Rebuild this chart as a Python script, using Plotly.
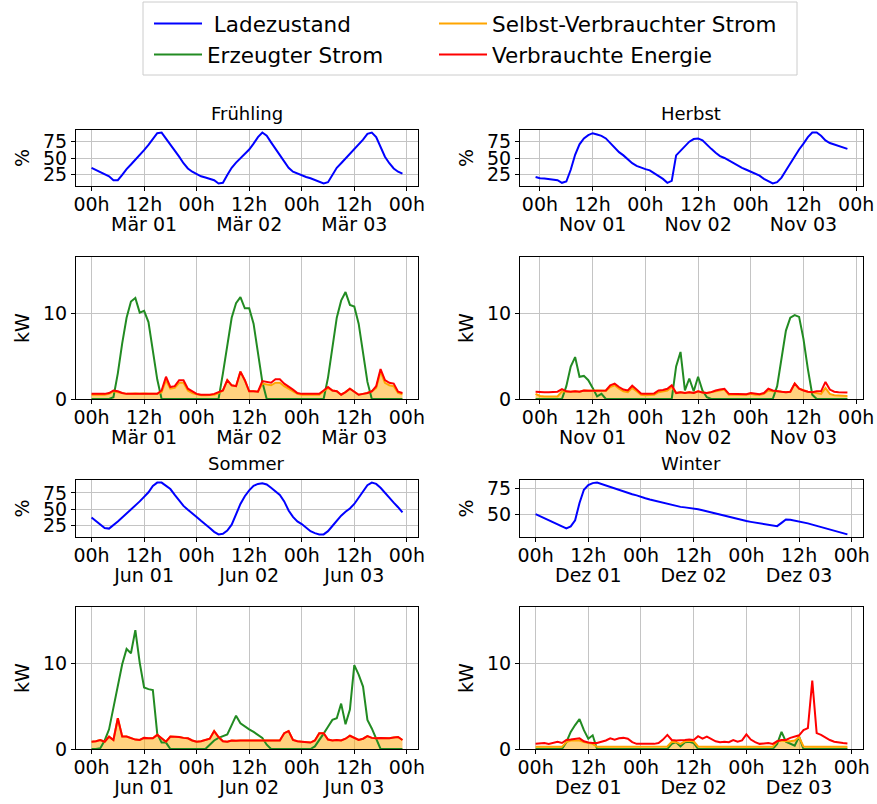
import pandas as pd
import plotly.graph_objects as go

W, H = 877, 804

# ---------------- data ----------------
TITLES = ["Frühling", "Herbst", "Sommer", "Winter"]
START = ["2023-03-01 00:00", "2023-10-31 23:00", "2023-06-01 00:00", "2023-12-01 00:00"]
DAY0 = ["2023-03-01", "2023-11-01", "2023-06-01", "2023-12-01"]

HOUR_TICKTEXT = ["00h", "12h", "00h", "12h", "00h", "12h", "00h"]
DATES_FR = ["Mär 01", "Mär 02", "Mär 03"]
DATES_HE = ["Nov 01", "Nov 02", "Nov 03"]
DATES_SO = ["Jun 01", "Jun 02", "Jun 03"]
DATES_WI = ["Dez 01", "Dez 02", "Dez 03"]

# Ladezustand (%)
SOC_FR = [35, 32, 29, 26, 22, 16, 16, 24, 33, 40, 47, 55,
          62, 70, 80, 88, 89, 80, 70, 62, 52, 42, 34, 29,
          25, 22, 20, 18, 16, 11, 12, 24, 35, 43, 50, 56,
          63, 72, 82, 89, 84, 74, 64, 53, 43, 35, 29, 26,
          24, 21, 19, 16, 14, 11, 13, 24, 35, 42, 49, 56,
          63, 70, 78, 87, 89, 82, 68, 52, 42, 34, 29, 26]
SOC_HE = [21, 19, 18.5, 18, 17, 16, 12, 14, 32, 55, 71, 80,
          85, 88, 86, 84, 80, 73, 65, 59, 54, 48, 42, 38,
          35, 33, 31, 27, 23, 18, 12, 15, 54, 61, 67, 75,
          79, 80, 77, 70, 64, 58, 53, 50, 46, 42, 39, 35,
          32, 29, 26, 23, 18, 14, 11, 13, 20, 31, 42, 52,
          63, 72, 82, 89, 89, 84, 77, 73, 71, 68, 66, 64]
SOC_SO = [37, 32, 26, 21, 20, 25, 31, 37, 43, 50, 56, 62,
          69, 76, 86, 91, 91, 86, 81, 72, 63, 55, 49, 44,
          38, 32, 27, 21, 15, 11, 12, 17, 26, 42, 58, 70,
          79, 86, 89, 90, 88, 83, 78, 72, 62, 48, 38, 31,
          27, 21, 16, 13, 11, 11, 16, 24, 32, 40, 46, 51,
          58, 68, 79, 87, 91, 89, 83, 75, 67, 60, 53, 45]
SOC_WI = [50, 48, 46, 44, 42, 40, 38, 36, 38, 44, 61, 74,
          78.5, 80.5, 81, 79.5, 78, 76.5, 75, 73.5, 72, 70.8, 69.6, 68.5,
          66.7, 65.6, 64.4, 63.3, 62.1, 61, 59.8, 58.7, 57.8, 57.2, 56.7, 56.3,
          56, 54.9, 53.9, 52.8, 51.8, 50.7, 49.6, 48.6, 47.5, 46.5, 45.4, 44.4,
          43.3, 42.5, 41.7, 40.9, 40.1, 39.3, 38.5, 38.3, 41.5, 44.8, 44.6, 43.8,
          43.0, 42, 41, 39.8, 38.6, 37.4, 36.2, 35, 33.8, 32.6, 31.4, 30.2]

# Erzeugter Strom (kW)
GEN_FR = [0, 0, 0, 0, 0, 0.2, 3.0, 6.5, 9.5, 11.4, 11.8, 10.1,
          10.3, 9.0, 5.7, 2.3, 0, 0, 0, 0, 0, 0, 0, 0,
          0, 0, 0, 0, 0, 0, 3.0, 6.5, 9.5, 11.2, 11.9, 10.6,
          10.6, 8.8, 5.5, 2.0, 0, 0, 0, 0, 0, 0, 0, 0,
          0, 0, 0, 0, 0, 0, 2.5, 6.0, 9.5, 11.5, 12.5, 11.0,
          10.8, 8.8, 5.2, 2.0, 0, 0, 0, 0, 0, 0, 0, 0]
GEN_HE = [0, 0, 0, 0, 0, 0, 0, 1.5, 3.8, 4.9, 2.6, 2.7,
          2.2, 1.3, 0.3, 0.6, 0, 0, 0, 0, 0, 0, 0, 0,
          0, 0, 0, 0, 0, 0, 0, 0, 3.8, 5.5, 1.0, 2.4,
          0.9, 2.6, 1.0, 0.2, 0, 0, 0, 0, 0, 0, 0, 0,
          0, 0, 0, 0, 0, 0, 0, 1.5, 4.5, 8.0, 9.5, 9.8,
          9.6, 7.0, 3.5, 0.5, 0, 0, 0, 0, 0, 0, 0, 0]
GEN_SO = [0, 0, 0.1, 1.0, 2.3, 4.8, 7.0, 9.9, 11.7, 11.2, 13.9, 10.1,
          7.2, 7.0, 6.9, 1.8, 0.75, 0.75, 0, 0, 0, 0, 0, 0,
          0, 0, 0, 0.5, 1.0, 1.3, 1.5, 1.7, 2.8, 3.9, 3.0, 2.6,
          2.3, 2.0, 1.7, 1.3, 0.5, 0, 0, 0, 0, 0, 0, 0,
          0, 0, 0, 0.3, 1.0, 1.8, 2.6, 3.4, 3.6, 5.3, 2.9, 4.6,
          9.8, 8.7, 7.3, 3.4, 2.4, 1.2, 0, 0, 0, 0, 0, 0]
GEN_WI = [0, 0, 0, 0, 0, 0, 0, 0.8, 2.0, 2.8, 3.5, 2.2,
          1.2, 1.6, 0, 0, 0, 0, 0, 0, 0, 0, 0, 0,
          0, 0, 0, 0, 0, 0, 0, 0.6, 0.8, 0.3, 0.8, 0.85,
          0.7, 0, 0, 0, 0, 0, 0, 0, 0, 0, 0, 0,
          0, 0, 0, 0, 0, 0, 0, 0.6, 2.0, 0.85, 0.6, 0.4,
          1.45, 0, 0, 0, 0, 0, 0, 0, 0, 0, 0, 0]

# Selbst-Verbrauchter Strom (kW)
SELF_FR = [0.5, 0.5, 0.5, 0.5, 0.6, 0.9, 0.8, 0.7, 0.6, 0.6, 0.65, 0.6,
           0.65, 0.6, 0.6, 0.6, 0.8, 2.2, 1.2, 1.3, 1.9, 1.9, 1.0, 0.7,
           0.55, 0.45, 0.45, 0.45, 0.5, 0.7, 1.0, 2.2, 1.6, 1.5, 3.2, 2.2,
           0.9, 0.9, 0.85, 1.8, 1.7, 1.6, 1.9, 1.9, 1.5, 1.2, 0.9, 0.6,
           0.5, 0.5, 0.5, 0.5, 0.5, 0.9, 1.3, 1.0, 0.9, 0.5, 0.8, 1.2,
           0.8, 0.5, 0.6, 0.7, 0.9, 1.3, 3.2, 1.9, 1.6, 1.5, 0.7, 0.55]
SELF_HE = [0.6, 0.35, 0.3, 0.3, 0.3, 0.3, 0.9, 0.85, 0.85, 0.9, 0.85, 1.0,
           0.95, 0.95, 1.0, 0.95, 0.95, 1.4, 1.6, 1.2, 0.9, 0.8, 1.3, 0.9,
           0.5, 0.45, 0.45, 0.5, 0.8, 0.9, 1.0, 1.4, 0.7, 0.8, 0.7, 0.8,
           0.7, 0.9, 0.75, 0.7, 0.8, 0.9, 1.0, 1.1, 0.5, 0.5, 0.5, 0.5,
           0.5, 0.6, 0.5, 0.5, 0.6, 1.0, 0.9, 0.9, 0.85, 0.8, 0.85, 1.8,
           1.2, 1.0, 0.85, 0.8, 0.7, 0.6, 1.3, 0.6, 0.45, 0.4, 0.35, 0.35]
SELF_SO = [0.85, 0.9, 1.05, 0.85, 1.45, 1.05, 3.6, 1.45, 1.45, 1.3, 1.1, 1.05,
           1.3, 1.25, 1.25, 1.65, 1.3, 0.85, 1.45, 1.45, 1.4, 1.3, 1.25, 1.0,
           0.85, 0.9, 1.05, 1.2, 2.1, 1.4, 0.9, 0.85, 1.0, 0.95, 1.0, 1.0,
           1.0, 1.0, 1.0, 1.0, 1.0, 1.05, 1.0, 1.0, 1.85, 2.1, 1.05, 0.9,
           0.85, 0.8, 0.75, 1.0, 1.85, 1.85, 1.1, 1.0, 1.05, 1.0, 1.2, 1.55,
           1.3, 1.05, 1.2, 1.5, 1.3, 1.25, 1.3, 1.3, 1.25, 1.35, 1.4, 1.05]
SELF_WI = [0.25, 0.25, 0.25, 0.25, 0.25, 0.25, 0.25, 0.8, 1.0, 1.0, 1.0, 0.8,
           0.7, 0.6, 0.25, 0.25, 0.25, 0.25, 0.25, 0.25, 0.25, 0.25, 0.25, 0.25,
           0.25, 0.25, 0.25, 0.25, 0.25, 0.25, 0.3, 0.85, 0.8, 0.6, 0.9, 0.95,
           0.9, 0.3, 0.25, 0.25, 0.25, 0.25, 0.25, 0.25, 0.25, 0.25, 0.25, 0.25,
           0.25, 0.25, 0.25, 0.25, 0.25, 0.25, 0.25, 0.9, 1.0, 0.9, 0.9, 1.0,
           1.4, 0.3, 0.25, 0.25, 0.25, 0.25, 0.25, 0.25, 0.25, 0.25, 0.25, 0.25]

# Verbrauchte Energie (kW)
CONS_FR = [0.6, 0.6, 0.6, 0.6, 0.7, 1.0, 0.9, 0.7, 0.6, 0.6, 0.65, 0.6,
           0.65, 0.6, 0.6, 0.6, 1.0, 2.6, 1.4, 1.5, 2.2, 2.2, 1.2, 0.85,
           0.6, 0.5, 0.5, 0.5, 0.6, 0.8, 1.0, 2.2, 1.6, 1.5, 3.2, 2.2,
           0.9, 0.9, 0.85, 2.1, 2.0, 1.9, 2.3, 2.3, 1.8, 1.5, 1.1, 0.7,
           0.6, 0.6, 0.6, 0.6, 0.6, 1.0, 1.4, 1.0, 0.9, 0.5, 0.8, 1.2,
           0.8, 0.5, 0.6, 0.7, 0.9, 1.5, 3.5, 2.2, 1.9, 1.8, 0.85, 0.7]
CONS_HE = [0.85, 0.8, 0.8, 0.8, 0.8, 0.85, 1.15, 0.9, 0.85, 0.9, 0.85, 1.0,
           0.95, 0.95, 1.0, 0.95, 1.0, 1.6, 1.8, 1.4, 1.1, 1.0, 1.55, 1.1,
           0.65, 0.6, 0.6, 0.65, 1.0, 1.05, 1.2, 1.6, 0.7, 0.8, 0.7, 0.8,
           0.7, 0.9, 0.75, 0.7, 0.8, 1.0, 1.1, 1.2, 0.6, 0.6, 0.55, 0.6,
           0.55, 0.7, 0.6, 0.55, 0.7, 1.2, 1.0, 0.9, 0.85, 0.8, 0.85, 1.8,
           1.2, 1.0, 0.85, 0.8, 0.9, 0.9, 2.0, 1.1, 0.85, 0.8, 0.75, 0.75]
CONS_SO = [0.85, 0.9, 1.05, 0.85, 1.45, 1.05, 3.6, 1.45, 1.45, 1.3, 1.1, 1.05,
           1.3, 1.25, 1.25, 1.65, 1.3, 0.85, 1.45, 1.45, 1.4, 1.3, 1.25, 1.0,
           0.85, 0.9, 1.05, 1.2, 2.1, 1.4, 0.9, 0.85, 1.0, 0.95, 1.0, 1.0,
           1.0, 1.0, 1.0, 1.0, 1.0, 1.05, 1.0, 1.0, 1.85, 2.1, 1.05, 0.9,
           0.85, 0.8, 0.75, 1.0, 1.85, 1.85, 1.1, 1.0, 1.05, 1.0, 1.2, 1.55,
           1.3, 1.05, 1.2, 1.5, 1.3, 1.25, 1.3, 1.3, 1.25, 1.35, 1.4, 1.05]
CONS_WI = [0.6, 0.65, 0.7, 0.6, 0.7, 0.85, 0.7, 1.05, 1.1, 1.15, 1.25, 0.9,
           0.75, 0.7, 0.7, 0.85, 1.0, 1.25, 1.1, 1.25, 1.3, 1.2, 0.8, 0.6,
           0.6, 0.6, 0.6, 0.6, 0.7, 1.1, 1.65, 1.05, 1.0, 1.0, 1.05, 1.1,
           1.05, 1.5, 1.2, 1.45, 1.15, 0.9, 0.8, 0.85, 0.8, 1.05, 0.85, 1.0,
           1.7, 1.1, 0.8, 0.6, 0.65, 0.7, 0.6, 0.9, 1.05, 1.05, 1.3, 1.45,
           1.6, 2.2, 2.45, 8.0, 1.85, 1.65, 1.3, 1.05, 0.85, 0.75, 0.7, 0.65]

SOC = [SOC_FR, SOC_HE, SOC_SO, SOC_WI]
GEN = [GEN_FR, GEN_HE, GEN_SO, GEN_WI]
SELF = [SELF_FR, SELF_HE, SELF_SO, SELF_WI]
CONS = [CONS_FR, CONS_HE, CONS_SO, CONS_WI]
DATES = [DATES_FR, DATES_HE, DATES_SO, DATES_WI]

# ---------------- layout geometry (pixels) ----------------
COLS_PX = [(76, 418), (520, 863)]
SOC_ROWS_PX = [(130, 186), (480, 537)]
KW_ROWS_PX = [(257, 399), (607, 749)]
KW_RANGE = [0, 16.6]

FONT = "DejaVu Sans"
TICK_SIZE = 19


def xdom(c):
    return [COLS_PX[c][0] / W, COLS_PX[c][1] / W]


def ydom(r):
    return [1 - r[1] / H, 1 - r[0] / H]


fig = go.Figure()
layout = {}
annotations = []

axis_common = dict(
    showline=True, linecolor="black", linewidth=1, mirror=True,
    ticks="outside", ticklen=4, tickwidth=1, tickcolor="black",
    showgrid=True, gridcolor="#c4c4c4", gridwidth=1, zeroline=False,
    tickfont=dict(family=FONT, size=TICK_SIZE, color="black"),
    automargin=False, tickangle=0,
)

for i in range(4):
    col = i % 2
    blk = i // 2
    x = pd.date_range(START[i], periods=len(SOC[i]), freq="h")
    pad = (x[-1] - x[0]) * 0.05
    xrange = [x[0] - pad, x[-1] + pad]
    d0 = pd.Timestamp(DAY0[i])
    tickvals = [d0 + pd.Timedelta(hours=12 * k) for k in range(7)]
    datevals = [d0 + pd.Timedelta(hours=12 + 24 * k) for k in range(3)]

    a_soc = 2 * i + 1
    a_kw = 2 * i + 2

    for a in (a_soc, a_kw):
        layout["xaxis%d" % a] = dict(
            axis_common, domain=xdom(col), anchor="y%d" % a, type="date",
            range=xrange, tickmode="array", tickvals=tickvals, ticktext=HOUR_TICKTEXT,
            ticklabelstandoff=-3,
        )
        # second label row (dates) as an overlaying axis
        layout["xaxis%d" % (a + 8)] = dict(
            overlaying="x%d" % a, anchor="y%d" % a, side="bottom", type="date",
            range=xrange, tickmode="array", tickvals=datevals, ticktext=DATES[i],
            showgrid=False, showline=False, zeroline=False,
            ticks="outside", ticklen=4, tickcolor="rgba(0,0,0,0)",
            ticklabelstandoff=17, automargin=False, tickangle=0,
            tickfont=dict(family=FONT, size=TICK_SIZE, color="black"),
        )
        # empty carrier trace so the date-label axis is rendered
        fig.add_trace(go.Scatter(
            x=x, y=SOC[i] if a == a_soc else CONS[i], mode="none",
            showlegend=False, hoverinfo="skip",
            xaxis="x%d" % (a + 8), yaxis="y%d" % a))

    lo, hi = min(SOC[i]), max(SOC[i])
    m = (hi - lo) * 0.05
    layout["yaxis%d" % a_soc] = dict(
        axis_common, domain=ydom(SOC_ROWS_PX[blk]), anchor="x%d" % a_soc,
        range=[lo - m, hi + m], tickmode="array", tickvals=[25, 50, 75],
        title=dict(text="%", font=dict(family=FONT, size=TICK_SIZE, color="black"), standoff=8),
    )
    layout["yaxis%d" % a_kw] = dict(
        axis_common, domain=ydom(KW_ROWS_PX[blk]), anchor="x%d" % a_kw,
        range=KW_RANGE, tickmode="array", tickvals=[0, 10],
        title=dict(text="kW", font=dict(family=FONT, size=TICK_SIZE, color="black"), standoff=8),
    )

    annotations.append(dict(
        text=TITLES[i], xref="paper", yref="paper",
        x=sum(xdom(col)) / 2, y=ydom(SOC_ROWS_PX[blk])[1],
        xanchor="center", yanchor="bottom", yshift=4, showarrow=False,
        font=dict(family=FONT, size=18, color="black"),
    ))

    first = i == 0
    xs, ys = "x%d" % a_soc, "y%d" % a_soc
    xk, yk = "x%d" % a_kw, "y%d" % a_kw

    fig.add_trace(go.Scatter(
        x=x, y=SOC[i], mode="lines", line=dict(color="blue", width=2),
        name="\u00a0Ladezustand", legend="legend", legendrank=1, showlegend=first,
        xaxis=xs, yaxis=ys))

    fig.add_trace(go.Scatter(
        x=x, y=SELF[i], mode="none", fill="tozeroy",
        fillcolor="rgba(255,165,0,0.5)", showlegend=False, hoverinfo="skip",
        xaxis=xk, yaxis=yk))
    fig.add_trace(go.Scatter(
        x=x, y=GEN[i], mode="lines", line=dict(color="#228B22", width=2),
        name="Erzeugter Strom", legend="legend", legendrank=2, showlegend=first,
        xaxis=xk, yaxis=yk))
    fig.add_trace(go.Scatter(
        x=x, y=SELF[i], mode="lines", line=dict(color="orange", width=2),
        name="Selbst-Verbrauchter Strom", legend="legend2", legendrank=1, showlegend=first,
        xaxis=xk, yaxis=yk))
    fig.add_trace(go.Scatter(
        x=x, y=CONS[i], mode="lines", line=dict(color="red", width=2),
        name="Verbrauchte Energie", legend="legend2", legendrank=2, showlegend=first,
        xaxis=xk, yaxis=yk))

legend_common = dict(
    orientation="v", xanchor="left", yanchor="top", y=1 - 3 / H,
    bgcolor="rgba(0,0,0,0)", borderwidth=0, tracegroupgap=0,
    font=dict(family=FONT, size=21.5, color="black"), itemwidth=48,
    traceorder="normal",
)

fig.update_layout(
    width=W, height=H,
    margin=dict(l=0, r=0, t=0, b=0, autoexpand=False),
    paper_bgcolor="white", plot_bgcolor="white",
    font=dict(family=FONT, color="black"),
    annotations=annotations,
    legend=dict(legend_common, x=149 / W),
    legend2=dict(legend_common, x=434 / W),
    shapes=[dict(type="rect", xref="paper", yref="paper",
                 x0=143 / W, x1=797 / W, y0=1 - 75 / H, y1=1 - 2 / H,
                 line=dict(color="#cccccc", width=1), fillcolor="rgba(0,0,0,0)", layer="below")],
    **layout,
)

fig.write_html("out.html")
